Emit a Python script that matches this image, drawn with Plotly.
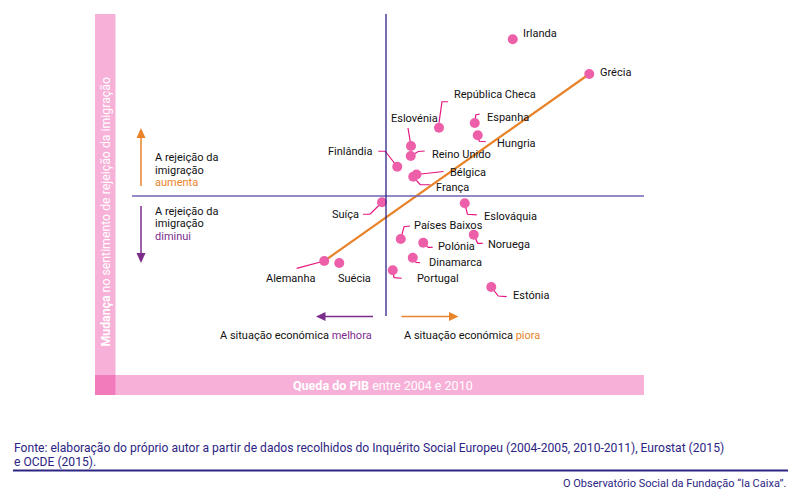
import plotly.graph_objects as go

# ---------------- data ----------------
countries = ["Irlanda", "Grécia", "República Checa", "Espanha", "Hungria", "Eslovénia",
             "Reino Unido", "Finlândia", "Bélgica", "França", "Suíça", "Eslováquia",
             "Países Baixos", "Polónia", "Noruega", "Dinamarca", "Portugal", "Estónia",
             "Alemanha", "Suécia"]
gdp_drop = [5.07, 8.13, 2.12, 3.55, 3.67, 1.00, 0.99, 0.45, 1.22, 1.09, -0.16, 3.15,
            0.59, 1.49, 3.51, 1.07, 0.27, 4.21, -2.47, -1.87]
rejection_change = [6.27, 4.88, 2.73, 2.92, 2.43, 2.00, 1.60, 1.17, 0.86, 0.77, -0.25, -0.29,
                    -1.72, -1.87, -1.55, -2.47, -2.97, -3.64, -2.60, -2.68]
trend_x = [-2.47, 8.13]
trend_y = [-2.60, 4.88]

# ---------------- style / layout helpers ----------------
W, H = 800, 496
X_RANGE = [-15.44, 16.56]
Y_RANGE = [-12.0, 7.84]
SX = W / (X_RANGE[1] - X_RANGE[0])
SY = H / (Y_RANGE[1] - Y_RANGE[0])

FONT = "Roboto, Inter, sans-serif"
ORANGE = "#e8832a"
PURPLE = "#7b2d8b"
NAVY = "#2e2186"
LAV = "#6c63b3"
PINK_DOT = "#ee5fa9"
LEADER = "#e5147f"
BAR = "#f7b1d8"
CORNER = "#f27bbb"
FOOT = "#2c2483"


def px(x):  # pixel -> data x
    return X_RANGE[0] + x / SX


def py(y):  # pixel -> data y
    return Y_RANGE[1] - y / SY


# label placement: (dx, dy, anchor, leader offsets in px relative to the dot)
label_pos = {
    "Irlanda": (8, -6, "left", []),
    "Grécia": (9, -2, "left", []),
    "República Checa": (13, -33, "left", [(0, -5), (3, -26), (9, -26)]),
    "Espanha": (10, -6, "left", [(0, 0), (1, -8), (5, -9)]),
    "Hungria": (17, 8, "left", [(0, 0), (1.5, 6), (8, 6.5)]),
    "Eslovénia": (3, -28, "center", [(0, 0), (-3, -18)]),
    "Reino Unido": (19, -2, "left", [(0, 0), (7.5, -4.5), (14, -5)]),
    "Finlândia": (-23, -15.5, "right", [(-19, -15.5), (-12, -15.5), (0, 0)]),
    "Bélgica": (31, -2.5, "left", [(0, 0), (27, -3)]),
    "França": (21, 11, "left", [(0, 0), (7, 8), (17, 8)]),
    "Suíça": (-21, 12, "right", [(-19, 12), (-12, 12), (0, 0)]),
    "Eslováquia": (17, 13, "left", [(0, 0), (2.7, 11), (12, 11.7)]),
    "Países Baixos": (11, -14, "left", [(0, 0), (3.3, -12.3), (9.3, -13)]),
    "Polónia": (13, 4, "left", [(0, 0), (5, 4.6), (9.4, 4.6)]),
    "Noruega": (12, 10, "left", [(0, 0), (4, 8.6), (9, 8.6)]),
    "Dinamarca": (14, 5, "left", [(0, 0), (3.3, 4.6), (7.3, 5)]),
    "Portugal": (22, 8, "left", [(0, 0), (1.3, 7.4), (9, 8)]),
    "Estónia": (20, 8, "left", [(0, 0), (7, 9), (15.4, 9.7)]),
    "Alemanha": (-33.5, 17.3, "center", [(-27.6, 7.3), (0, 0)]),
    "Suécia": (15, 15, "center", []),
}

fig = go.Figure()

# leader lines
lx, ly = [], []
for c, x, y in zip(countries, gdp_drop, rejection_change):
    pts = label_pos[c][3]
    if pts:
        for ox, oy in pts:
            lx.append(x + ox / SX)
            ly.append(y - oy / SY)
        lx.append(None)
        ly.append(None)
fig.add_trace(go.Scatter(x=lx, y=ly, mode="lines", line=dict(color=LEADER, width=1.2),
                         hoverinfo="skip", showlegend=False))

# trend line
fig.add_trace(go.Scatter(x=trend_x, y=trend_y, mode="lines", line=dict(color=ORANGE, width=2.2),
                         hoverinfo="skip", showlegend=False))

# points
fig.add_trace(go.Scatter(x=gdp_drop, y=rejection_change, mode="markers", text=countries,
                         marker=dict(size=10, color=PINK_DOT, line=dict(width=0)),
                         hovertemplate="%{text}<extra></extra>", showlegend=False))

annotations = []
for c, x, y in zip(countries, gdp_drop, rejection_change):
    dx, dy, anc, _ = label_pos[c]
    annotations.append(dict(x=x, y=y, xref="x", yref="y", text=c, showarrow=False,
                            xanchor=anc, yanchor="middle", xshift=dx, yshift=-dy,
                            font=dict(family=FONT, size=11, color="#111111")))

shapes = []


def rect(x0, y0, x1, y1, color):
    shapes.append(dict(type="rect", xref="paper", yref="paper", x0=x0 / W, x1=x1 / W,
                       y0=1 - y1 / H, y1=1 - y0 / H, fillcolor=color, line=dict(width=0),
                       layer="below"))


def seg(x0, y0, x1, y1, color, width):
    shapes.append(dict(type="line", xref="paper", yref="paper", x0=x0 / W, x1=x1 / W,
                       y0=1 - y0 / H, y1=1 - y1 / H, line=dict(color=color, width=width)))


def tri(pts, color):
    path = "M " + " L ".join(f"{px(a)},{py(b)}" for a, b in pts) + " Z"
    shapes.append(dict(type="path", xref="x", yref="y", path=path, fillcolor=color,
                       line=dict(width=0)))


# pink axis bars
rect(95, 14, 115.5, 375, BAR)
rect(95, 375, 644, 395, BAR)
rect(95, 375, 115.5, 395, CORNER)

# quadrant lines
seg(132, 196, 644, 196, LAV, 1.5)
seg(386, 14, 386, 316, NAVY, 1.3)

# arrows
seg(141, 186, 141, 136, ORANGE, 1.5)
tri([(141, 128), (136.5, 138), (145.5, 138)], ORANGE)
seg(141, 206, 141, 255, PURPLE, 1.5)
tri([(141, 263), (136.5, 253), (145.5, 253)], PURPLE)
seg(373, 316.5, 324, 316.5, PURPLE, 1.5)
tri([(316, 316.5), (325.5, 312), (325.5, 321)], PURPLE)
seg(401.5, 316.5, 450, 316.5, ORANGE, 1.5)
tri([(458.5, 316.5), (449, 312), (449, 321)], ORANGE)

# footer rule
seg(13, 470.5, 788, 470.5, FOOT, 2.2)


def ptext(x, y, text, anchor="left", size=11, color="#111111", angle=0, family=FONT):
    annotations.append(dict(x=x / W, y=1 - y / H, xref="paper", yref="paper", text=text,
                            showarrow=False, xanchor=anchor, yanchor="middle",
                            textangle=angle, font=dict(family=family, size=size, color=color)))


ptext(153, 157, "A rejeição da")
ptext(153, 170, "imigração")
ptext(153, 183, "aumenta", color=ORANGE)
ptext(153, 211, "A rejeição da")
ptext(153, 223.5, "imigração")
ptext(153, 236, "diminui", color=PURPLE)
ptext(374, 335, f"A situação económica <span style='color:{PURPLE}'>melhora</span>", anchor="right")
ptext(402, 335, f"A situação económica <span style='color:{ORANGE}'>piora</span>", anchor="left")

ptext(383, 385, "<b>Queda do PIB</b> entre 2004 e 2010", anchor="center", size=12.5, color="white")
ptext(105, 211.5, "<b>Mudança</b> no sentimento de rejeição da imigração", anchor="center",
      size=12.3, color="white", angle=-90)

ptext(12, 447.5, "Fonte: elaboração do próprio autor a partir de dados recolhidos do Inquérito "
      "Social Europeu (2004-2005, 2010-2011), Eurostat (2015)", size=12.1, color=FOOT)
ptext(12, 461.5, "e OCDE (2015).", size=12.1, color=FOOT)
ptext(788, 483, "O Observatório Social da Fundação “la Caixa”.", anchor="right", size=11,
      color=FOOT)

fig.update_layout(
    width=W, height=H, autosize=False,
    margin=dict(l=0, r=0, t=0, b=0, pad=0),
    paper_bgcolor="white", plot_bgcolor="white",
    xaxis=dict(range=X_RANGE, visible=False, fixedrange=True),
    yaxis=dict(range=Y_RANGE, visible=False, fixedrange=True),
    shapes=shapes, annotations=annotations, showlegend=False,
    font=dict(family=FONT),
)

fig.write_html("out.html")
